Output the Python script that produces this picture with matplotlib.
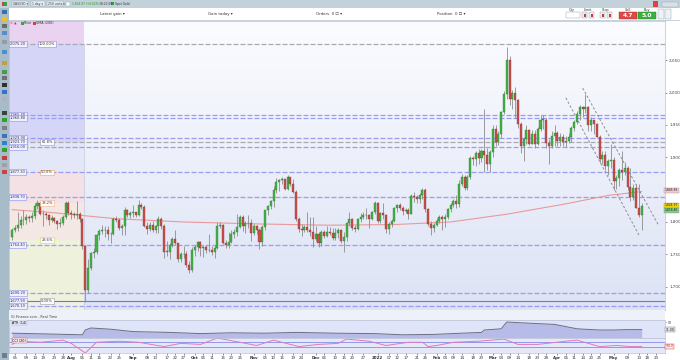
import matplotlib
matplotlib.use("Agg")
import matplotlib.pyplot as plt
import numpy as np
import pandas as pd
from matplotlib.patches import Rectangle
from matplotlib.colors import LinearSegmentedColormap
from matplotlib.ticker import FuncFormatter

W, H = 680, 360

# ---- XAU/USD diario (IG), 02/07/2021 - 16/05/2022 ----
first_open = 1776
closes = [
    1787, 1791, 1796, 1803, 1803, 1808, 1806, 1809, 1825, 1829, 1812, 1813, 1810, 1803, 1806, 1802, 1797, 1799, 1807, 1829, 1814,
    1813, 1810, 1812, 1804, 1763, 1695, 1729, 1752, 1753, 1780, 1786, 1787, 1787, 1781, 1781, 1805, 1803, 1790, 1793, 1818, 1810, 1814,
    1815, 1810, 1827, 1823, 1794, 1789, 1795, 1787, 1793, 1805, 1794, 1754, 1754, 1764, 1774, 1768, 1743, 1750, 1751, 1734, 1726, 1757,
    1761, 1769, 1760, 1762, 1756, 1757, 1754, 1760, 1793, 1796, 1768, 1765, 1769, 1782, 1784, 1792, 1807, 1793, 1798, 1799, 1783,
    1794, 1788, 1769, 1792, 1818, 1824, 1832, 1849, 1862, 1865, 1866, 1851, 1869, 1859, 1846, 1805, 1789, 1788, 1792, 1788, 1785, 1774,
    1782, 1768, 1784, 1779, 1785, 1783, 1775, 1783, 1787, 1771, 1777, 1799, 1804, 1790, 1789, 1804, 1808, 1811, 1810, 1805, 1815, 1829,
    1801, 1814, 1810, 1789, 1797, 1801, 1821, 1826, 1821, 1817, 1819, 1813, 1840, 1839, 1835, 1842, 1849, 1820, 1797, 1791, 1796,
    1801, 1807, 1804, 1807, 1820, 1826, 1833, 1828, 1859, 1870, 1853, 1870, 1899, 1898, 1906, 1899, 1909, 1903, 1889, 1908,
    1944, 1923, 1936, 1970, 1998, 2050, 1990, 2000, 1988, 1952, 1917, 1928, 1942, 1921, 1936, 1921, 1944, 1958, 1958, 1922, 1918, 1933, 1937,
    1925, 1932, 1923, 1925, 1932, 1946, 1954, 1967, 1977, 1974, 1978, 1950, 1958, 1951, 1932, 1898, 1904, 1886, 1894, 1896,
    1863, 1868, 1881, 1877, 1883, 1854, 1838, 1852, 1822, 1811, 1824,
]
highs = [
    1790, 1795, 1815, 1809, 1818, 1812, 1810, 1816, 1829, 1834, 1831, 1819, 1816, 1812, 1811, 1808, 1803, 1806, 1810, 1832, 1832,
    1818, 1816, 1832, 1816, 1806, 1765, 1742, 1754, 1760, 1782, 1789, 1795, 1794, 1793, 1785, 1807, 1809, 1806, 1797, 1823, 1820, 1817,
    1826, 1816, 1834, 1830, 1827, 1800, 1800, 1801, 1795, 1809, 1808, 1797, 1770, 1767, 1776, 1788, 1768, 1754, 1763, 1755, 1740, 1761,
    1765, 1770, 1770, 1765, 1764, 1781, 1763, 1765, 1800, 1800, 1797, 1772, 1785, 1788, 1789, 1813, 1810, 1810, 1801, 1811, 1804,
    1797, 1796, 1791, 1795, 1819, 1826, 1834, 1855, 1868, 1867, 1869, 1867, 1872, 1870, 1866, 1849, 1807, 1797, 1795, 1815, 1808, 1807,
    1793, 1785, 1787, 1788, 1793, 1792, 1790, 1791, 1791, 1789, 1784, 1800, 1815, 1806, 1796, 1806, 1814, 1815, 1821, 1812, 1817, 1832,
    1831, 1815, 1829, 1812, 1800, 1805, 1823, 1828, 1829, 1824, 1822, 1822, 1843, 1847, 1842, 1845, 1853, 1852, 1822, 1801, 1799,
    1806, 1811, 1810, 1812, 1822, 1829, 1835, 1842, 1865, 1874, 1872, 1872, 1902, 1902, 1909, 1913, 1913, 1974, 1914, 1912,
    1950, 1950, 1941, 1972, 2002, 2070, 2056, 2004, 2009, 1990, 1955, 1932, 1950, 1944, 1942, 1942, 1947, 1966, 1966, 1960, 1929, 1940, 1950,
    1940, 1937, 1936, 1933, 1937, 1948, 1957, 1971, 1981, 1980, 1998, 1980, 1962, 1958, 1953, 1935, 1910, 1909, 1897, 1920,
    1900, 1873, 1883, 1909, 1893, 1887, 1883, 1858, 1858, 1858, 1830,
]
lows = [
    1772, 1784, 1786, 1790, 1796, 1797, 1800, 1800, 1805, 1820, 1810, 1794, 1804, 1796, 1800, 1798, 1789, 1792, 1796, 1805, 1810,
    1805, 1806, 1805, 1800, 1758, 1677, 1690, 1725, 1745, 1750, 1772, 1782, 1776, 1772, 1768, 1780, 1800, 1788, 1780, 1780, 1807, 1806,
    1807, 1807, 1809, 1820, 1792, 1782, 1786, 1785, 1783, 1783, 1789, 1745, 1747, 1742, 1762, 1764, 1738, 1738, 1745, 1731, 1721, 1723,
    1748, 1755, 1747, 1746, 1752, 1753, 1749, 1745, 1758, 1790, 1766, 1760, 1759, 1768, 1775, 1778, 1791, 1786, 1783, 1790, 1770,
    1780, 1782, 1758, 1763, 1788, 1810, 1820, 1823, 1845, 1848, 1859, 1850, 1850, 1855, 1845, 1801, 1784, 1778, 1785, 1785, 1778, 1762,
    1770, 1762, 1763, 1775, 1777, 1780, 1772, 1772, 1775, 1768, 1753, 1771, 1793, 1788, 1785, 1787, 1800, 1805, 1805, 1790, 1803, 1812,
    1798, 1798, 1805, 1783, 1781, 1792, 1800, 1815, 1818, 1811, 1814, 1805, 1812, 1831, 1830, 1830, 1836, 1815, 1794, 1780, 1785,
    1793, 1798, 1788, 1792, 1805, 1815, 1823, 1821, 1823, 1855, 1850, 1850, 1866, 1888, 1887, 1890, 1892, 1878, 1880, 1878,
    1900, 1918, 1919, 1930, 1967, 1990, 1981, 1975, 1960, 1946, 1906, 1895, 1920, 1919, 1920, 1915, 1919, 1940, 1944, 1914, 1890, 1915, 1918,
    1918, 1918, 1917, 1916, 1922, 1923, 1941, 1951, 1958, 1963, 1969, 1940, 1941, 1936, 1931, 1891, 1890, 1880, 1872, 1883,
    1850, 1851, 1856, 1865, 1872, 1850, 1832, 1834, 1821, 1808, 1787,
]
holidays = ["2021-12-24", "2022-04-15"]

# SMA (200)
sma_dates = ["2021-07-02", "2021-07-21", "2021-08-24", "2021-09-27", "2021-11-02", "2021-12-07",
             "2022-01-11", "2022-02-08", "2022-03-08", "2022-04-06", "2022-04-28", "2022-05-16"]
sma_vals = [1819, 1815, 1805, 1800, 1797, 1795, 1796, 1800, 1812, 1828, 1841, 1847]

# ATR (14)
atr_dates = ["2021-07-02", "2021-07-21", "2021-08-06", "2021-08-09", "2021-08-11", "2021-08-20",
             "2021-09-01", "2021-09-20", "2021-10-05", "2021-10-20", "2021-11-05", "2021-11-22",
             "2021-12-10", "2021-12-31", "2022-01-14", "2022-01-31", "2022-02-14", "2022-02-23",
             "2022-02-24", "2022-03-04", "2022-03-08", "2022-03-15", "2022-03-31", "2022-04-12",
             "2022-04-25", "2022-05-02", "2022-05-09", "2022-05-16"]
atr_vals = [22, 20, 18, 30, 35, 32, 26, 24, 21, 23, 22, 24, 22, 21, 18, 19, 22, 24,
            30, 33, 50, 48, 44, 33, 30, 30, 31, 31]

# CCI (20)
cci_dates = ["2021-07-02", "2021-07-06", "2021-07-16", "2021-07-28", "2021-08-02", "2021-08-09",
             "2021-08-13", "2021-08-25", "2021-09-03", "2021-09-16", "2021-09-24", "2021-10-05",
             "2021-10-13", "2021-10-21", "2021-11-02", "2021-11-10", "2021-11-23", "2021-12-02",
             "2021-12-13", "2021-12-16", "2021-12-29", "2022-01-06", "2022-01-18", "2022-01-25",
             "2022-01-27", "2022-02-01", "2022-02-09", "2022-02-22", "2022-03-07", "2022-03-14",
             "2022-03-23", "2022-04-06", "2022-04-12", "2022-04-25", "2022-05-03", "2022-05-10",
             "2022-05-13", "2022-05-16"]
cci_vals = [0, 150, 100, 200, 50, -400, 100, 150, 100, -100, 50, 0, 300, 150, -50, 200, -100, 0,
            50, 250, 150, -50, 100, 100, -100, -50, 100, 150, 250, 0, 0, 150, 200, -100, -50,
            -100, -100, -90]

# niveis horizontais (preco, estilo)
level_prices = [2075.2, 1965.4, 1960.8, 1929.9, 1923.7, 1916.0, 1877.3, 1838.7, 1764.4, 1690.2, 1677.9, 1670.1]
level_styles = ["grey", "blue", "blue", "blue", "grey", "blue", "blue", "blue", "blue", "blue", "dark", "blue"]

# Fibonacci
fib_high = 2075.2
fib_low = 1677.9
fib_end = "2021-08-09"
fib_ratios = [1.0, 0.618, 0.5, 0.382, 0.236, 0.0]
fib_names = ["100.00%", "61.8%", "50.0%", "38.2%", "23.6%", "0.00%"]
fib_tag_colors = ["#8a8ee6", "#9a9aa8", "#f0a060", "#f0b080", "#e8d040", "#9a9aa8"]
fib_zone_colors = ["#e9d3f1", "#d5d6f7", "#e3e7f8", "#f3e1e6", "#f4e8e4", "#eef1dc", "#eef1e2"]

# canal de baixa
channel_a_dates = ["2022-04-06", "2022-05-13"]
channel_a_vals = [1992, 1780]
channel_b_dates = ["2022-04-14", "2022-05-24"]
channel_b_vals = [2007, 1795]

# 1,850 fica escondido pelas etiquetas de preco
price_ticks = [1700, 1750, 1800, 1900, 1950, 2000, 2050]
tick_dates = ["2021-07-05", "2021-07-09", "2021-07-14", "2021-07-19", "2021-07-23", "2021-07-28",
              "2021-08-02", "2021-08-06", "2021-08-11", "2021-08-16", "2021-08-20", "2021-08-25",
              "2021-09-01", "2021-09-08", "2021-09-13", "2021-09-17", "2021-09-22", "2021-09-27",
              "2021-10-01", "2021-10-06", "2021-10-11", "2021-10-15", "2021-10-20", "2021-10-25",
              "2021-11-01", "2021-11-05", "2021-11-10", "2021-11-15", "2021-11-19", "2021-11-24",
              "2021-12-01", "2021-12-06", "2021-12-10", "2021-12-15", "2021-12-20", "2021-12-27",
              "2022-01-03", "2022-01-07", "2022-01-12", "2022-01-17", "2022-01-21", "2022-01-26",
              "2022-02-01", "2022-02-04", "2022-02-09", "2022-02-14", "2022-02-18", "2022-02-23",
              "2022-03-01", "2022-03-04", "2022-03-09", "2022-03-14", "2022-03-18", "2022-03-23", "2022-03-28",
              "2022-04-01", "2022-04-06", "2022-04-11", "2022-04-14", "2022-04-20", "2022-04-25",
              "2022-05-02", "2022-05-09", "2022-05-13", "2022-05-18", "2022-05-23"]
tick_labels = ["05", "09", "14", "19", "23", "28",
               "Aug", "06", "11", "16", "20", "25",
               "Sep", "08", "13", "17", "22", "27",
               "Oct", "06", "11", "15", "20", "25",
               "Nov", "05", "10", "15", "19", "24",
               "Dec", "06", "10", "15", "20", "27",
               "2022", "07", "12", "17", "21", "26",
               "Feb", "04", "09", "14", "18", "23",
               "Mar", "04", "09", "14", "18", "23", "28",
               "Apr", "06", "11", "14", "20", "25",
               "May", "09", "13", "18", "23"]

right_tags = ["1,846.85", "1,824.97", "1,818.46"]
right_tag_prices = [1849, 1826, 1818]
right_tag_colors = ["#f3c9cf", "#f2d20c", "#7fd07f"]

# ---- eixo temporal (dias uteis sem feriados do IG) ----
dates = pd.bdate_range("2021-07-02", "2022-06-10", freq="C", holidays=holidays)


def pos(d):
    return int(dates.searchsorted(pd.Timestamp(d)))


def fax(x0, y0, x1, y1):
    return [x0 / W, 1 - y1 / H, (x1 - x0) / W, (y1 - y0) / H]


n = len(closes)
x = np.arange(n)
opens = [first_open] + closes[:-1]

fig = plt.figure(figsize=(W / 100, H / 100), dpi=100)
fig.patch.set_facecolor("white")

ax = fig.add_axes(fax(9, 21, 665, 310), zorder=1)
ax_atr = fig.add_axes(fax(9, 320, 665, 338), sharex=ax, zorder=1)
ax_cci = fig.add_axes(fax(9, 338, 665, 353), sharex=ax, zorder=1)

XMIN, XMAX = -1.14, 232.3
YMIN, YMAX = 1663.9, 2110.7
ax.set_xlim(XMIN, XMAX)
ax.set_ylim(YMIN, YMAX)

# fundo em degrade
grad = LinearSegmentedColormap.from_list("bg", ["#dde3f5", "#fbfcff"])
ax.imshow(np.linspace(0, 1, 100).reshape(-1, 1), extent=[XMIN, XMAX, YMIN, YMAX],
          origin="lower", aspect="auto", cmap=grad, zorder=0)

# zonas de Fibonacci
fx = pos(fib_end) - 0.4
bounds = [YMAX] + [fib_low + r * (fib_high - fib_low) for r in fib_ratios] + [YMIN]
for i, col in enumerate(fib_zone_colors):
    ax.add_patch(Rectangle((XMIN, bounds[i + 1]), fx - XMIN, bounds[i] - bounds[i + 1],
                           facecolor=col, edgecolor="none", zorder=0.5))
ax.vlines(fx, YMIN, fib_high, color="#c8c8d8", lw=0.5, zorder=0.6)

# niveis horizontais
for p, s in zip(level_prices, level_styles):
    if s == "blue":
        ax.axhline(p, color="#9a9cf0", lw=0.9, dashes=(4, 1.6), zorder=2)
    elif s == "grey":
        ax.axhline(p, color="#a9a9b2", lw=0.9, dashes=(4, 1.6), zorder=2)
    else:
        ax.axhline(p, color="#7476c4", lw=0.8, zorder=2)
    ax.text(0.001, p, f"{p:,.2f}", transform=ax.get_yaxis_transform(), fontsize=2.6,
            ha="left", va="center", color="#303060", zorder=6,
            bbox=dict(boxstyle="square,pad=0.25", fc="#eef0ff", ec="#8a8ee6", lw=0.4))

for r, name, c in zip(fib_ratios, fib_names, fib_tag_colors):
    p = fib_low + r * (fib_high - fib_low)
    ax.text(12.4, p, name, fontsize=2.6, ha="center", va="center", color="#404040", zorder=6,
            bbox=dict(boxstyle="square,pad=0.25", fc="#fbfbff", ec=c, lw=0.4))

# media movel
ax.plot([pos(d) for d in sma_dates], sma_vals, color="#e99a9a", lw=0.8, zorder=2.5)

# canal
ax.plot([pos(d) for d in channel_a_dates], channel_a_vals, color="#8e8e8e", lw=0.7,
        dashes=(2.5, 2), zorder=2.6)
ax.plot([pos(d) for d in channel_b_dates], channel_b_vals, color="#8e8e8e", lw=0.7,
        dashes=(2.5, 2), zorder=2.6)

# candles
up = np.array(closes) >= np.array(opens)
ax.vlines(x, lows, highs, color="#8c8c8c", lw=0.6, zorder=3)
bottoms = np.minimum(opens, closes)
heights = np.maximum(np.abs(np.array(closes) - np.array(opens)), 0.8)
ax.bar(x[up], heights[up], bottom=bottoms[up], width=0.72, color="#43b344",
       edgecolor="#2a7a2a", lw=0.25, zorder=4)
ax.bar(x[~up], heights[~up], bottom=bottoms[~up], width=0.72, color="#c9504c",
       edgecolor="#8a2f2c", lw=0.25, zorder=4)

# eixo de precos a direita
ax.yaxis.tick_right()
ax.set_yticks(price_ticks)
ax.yaxis.set_major_formatter(FuncFormatter(lambda v, _: f"{v:,.0f}"))
ax.tick_params(axis="y", labelsize=3.0, length=1.5, width=0.4, pad=1.5, colors="#444444")
ax.tick_params(axis="x", bottom=False, labelbottom=False)
for sp in ax.spines.values():
    sp.set_color("#b8bfd4")
    sp.set_linewidth(0.5)

for txt, p, c in zip(right_tags, right_tag_prices, right_tag_colors):
    ax.text(0.9995, p, txt, transform=ax.get_yaxis_transform(), fontsize=2.2, ha="left",
            va="center", color="#222222", clip_on=False, zorder=7,
            bbox=dict(boxstyle="square,pad=0.15", fc=c, ec="#999999", lw=0.3))

# ATR
ax_atr.set_facecolor("#dfe4f8")
ax_atr.set_ylim(10, 55)
atr_x = [pos(d) for d in atr_dates]
ax_atr.fill_between(atr_x, 10, atr_vals, color="#b7bbe8", lw=0)
ax_atr.plot(atr_x, atr_vals, color="#6c6e80", lw=0.7)
ax_atr.yaxis.tick_right()
ax_atr.set_yticks([50])
ax_atr.tick_params(axis="y", labelsize=2.4, length=1, width=0.4, pad=1, colors="#444444")
ax_atr.tick_params(axis="x", bottom=False, labelbottom=False)
ax_atr.text(0.005, 0.85, "ATR (14)", transform=ax_atr.transAxes, fontsize=2.4, va="center",
            bbox=dict(boxstyle="square,pad=0.2", fc="#eef0fb", ec="#9a9cc8", lw=0.3))
ax_atr.text(1.001, atr_vals[-1], f"{atr_vals[-1]:.2f}", transform=ax_atr.get_yaxis_transform(),
            fontsize=2.2, ha="left", va="center", clip_on=False,
            bbox=dict(boxstyle="square,pad=0.15", fc="#e8e8f0", ec="#777777", lw=0.3))

# CCI
ax_cci.set_facecolor("#e4e8f9")
ax_cci.set_ylim(-400, 300)
ax_cci.axhline(100, color="#878be6", lw=0.6)
ax_cci.axhline(-100, color="#878be6", lw=0.6)
ax_cci.plot([pos(d) for d in cci_dates], cci_vals, color="#e07abd", lw=0.7)
ax_cci.yaxis.tick_right()
ax_cci.set_yticks([])
ax_cci.text(0.005, 0.82, "CCI (20)", transform=ax_cci.transAxes, fontsize=2.4, va="center",
            bbox=dict(boxstyle="square,pad=0.2", fc="#f4eef4", ec="#d05050", lw=0.3))
ax_cci.text(1.001, cci_vals[-1], f"{cci_vals[-1]:.1f}", transform=ax_cci.get_yaxis_transform(),
            fontsize=2.2, ha="left", va="center", color="#c03030", clip_on=False,
            bbox=dict(boxstyle="square,pad=0.15", fc="#fbe8e8", ec="#c03030", lw=0.3))
ax_cci.set_xticks([pos(d) for d in tick_dates])
ax_cci.set_xticklabels(tick_labels)
ax_cci.tick_params(axis="x", labelsize=2.9, length=1.2, width=0.4, pad=1.2, colors="#333333")
for lab in ax_cci.get_xticklabels():
    if not lab.get_text().isdigit() or lab.get_text() == "2022":
        lab.set_fontweight("bold")

for a in (ax_atr, ax_cci):
    for sp in a.spines.values():
        sp.set_color("#b8bfd4")
        sp.set_linewidth(0.5)

# ---- moldura da aplicacao (coordenadas em pixels) ----
ui = fig.add_axes([0, 0, 1, 1], zorder=5)
ui.set_xlim(0, W)
ui.set_ylim(H, 0)
ui.axis("off")
ui.patch.set_alpha(0)


def box(x0, y0, w, h, fc, ec="none", lw=0.4):
    ui.add_patch(Rectangle((x0, y0), w, h, facecolor=fc, edgecolor=ec, lw=lw))


def label(x0, y0, s, size=2.8, color="#333333", ha="left", weight="normal"):
    ui.text(x0, y0, s, fontsize=size, color=color, ha=ha, va="center", fontweight=weight)


# barra superior
box(0, 0, W, 8, "#c3d1da")
box(0, 7.6, W, 0.5, "#9fb2bf")
box(1.5, 1.5, 2.5, 4.5, "#d04040")
box(4, 1.5, 2.5, 4.5, "#40a040")
for x0, w, s in [(12, 16, "XAUUSD ▾"), (31, 14, "1 day ▾"), (47, 16, "250 units ▾")]:
    box(x0, 1.3, w, 5, "#e6edf2", "#8fa2b0", 0.3)
    label(x0 + 1, 3.8, s, size=2.2)
box(66, 1.5, 4, 4.5, "#ffffff", "#8fa2b0", 0.3)
label(71.5, 3.8, "1,824.97 (+0.62%)", size=2.1, color="#1a9a1a")
label(99.5, 3.8, "08:25:00", size=2.1)
box(111, 2.2, 3, 3, "#30a030")
label(115, 3.8, "Spot Gold", size=2.2)
box(653, 1, 5, 6, "#e04040")
box(662, 1.5, 16, 5, "#d7e1e8", "#8fa2b0", 0.3)

# segunda linha
box(9, 8, W - 9, 12.5, "#ffffff")
box(9, 20, W - 9, 0.6, "#c8d0dc")
label(100, 14, "Latest gain ▾", size=2.8)
label(208, 14, "Gain today ▾", size=2.8)
label(316, 14, "Orders  0 ☐ ▾", size=2.8)
label(437, 14, "Position  0 ☐ ▾", size=2.8)
label(572, 9.8, "Qty", size=2.4, ha="center")
box(566, 12, 14, 5.5, "#ffffff", "#8fa2b0", 0.3)
label(588, 9.8, "Limit", size=2.4, ha="center")
label(606, 9.8, "Stop", size=2.4, ha="center")
for x0 in (582, 589, 600, 607):
    box(x0, 12, 5, 6, "#e8eef0", "#8fa2b0", 0.3)
    box(x0 + 1.5, 13.5, 2, 3, "#c04040")
label(628, 9.8, "Sell", size=2.4, ha="center")
label(647, 9.8, "Buy", size=2.4, ha="center")
box(619, 11.5, 18, 7.5, "#e04848", "#a03030", 0.3)
box(638, 11.5, 18, 7.5, "#3cb03c", "#207a20", 0.3)
ui.text(628, 15.5, "4.7", fontsize=4.2, color="white", ha="center", va="center", fontweight="bold")
ui.text(647, 15.5, "5.0", fontsize=4.2, color="white", ha="center", va="center", fontweight="bold")
box(658, 9, 6, 10, "#eef2f5", "#8fa2b0", 0.3)
box(665, 9, 6, 10, "#eef2f5", "#8fa2b0", 0.3)

# legenda do grafico
label(10, 23.3, "✕ ▲", size=2.4, color="#c03030")
box(21, 21.8, 2.5, 3, "#40a040")
label(24, 23.3, "Price", size=2.4)
box(33, 21.8, 2.5, 3, "#d04040")
label(36, 23.3, "SMA (200)", size=2.4)

# faixa do indicador
box(9, 310, 656, 10, "#eef1f8")
label(11, 317.5, "IG Finance.com - Real Time", size=2.4, color="#444444")

# barra lateral de ferramentas
box(0, 8, 9, H - 8, "#a7bcc8")
box(8.6, 8, 0.5, H - 8, "#8aa0ae")
tool_y = [12, 19, 26, 33, 42, 52, 63, 72, 78, 85, 92, 99, 113, 120, 128, 136, 143, 150, 158, 165, 172]
tool_c = ["#3a6fb0", "#e8c030", "#6a6a6a", "#5a8ad0", "#9a9aa0", "#4a90d0", "#c0a040", "#4a9a4a",
          "#707070", "#303030", "#3a6fd0", "#b0b0c0", "#404040", "#30a030", "#808080", "#4070c0",
          "#3080d0", "#30a030", "#c04040", "#a0a0a0", "#d04040"]
for ty, tc in zip(tool_y, tool_c):
    box(2, ty - 2, 5, 4, tc)
box(2, 353, 5, 5, "#6b7f8c")

fig.savefig("out.png", dpi=100)
